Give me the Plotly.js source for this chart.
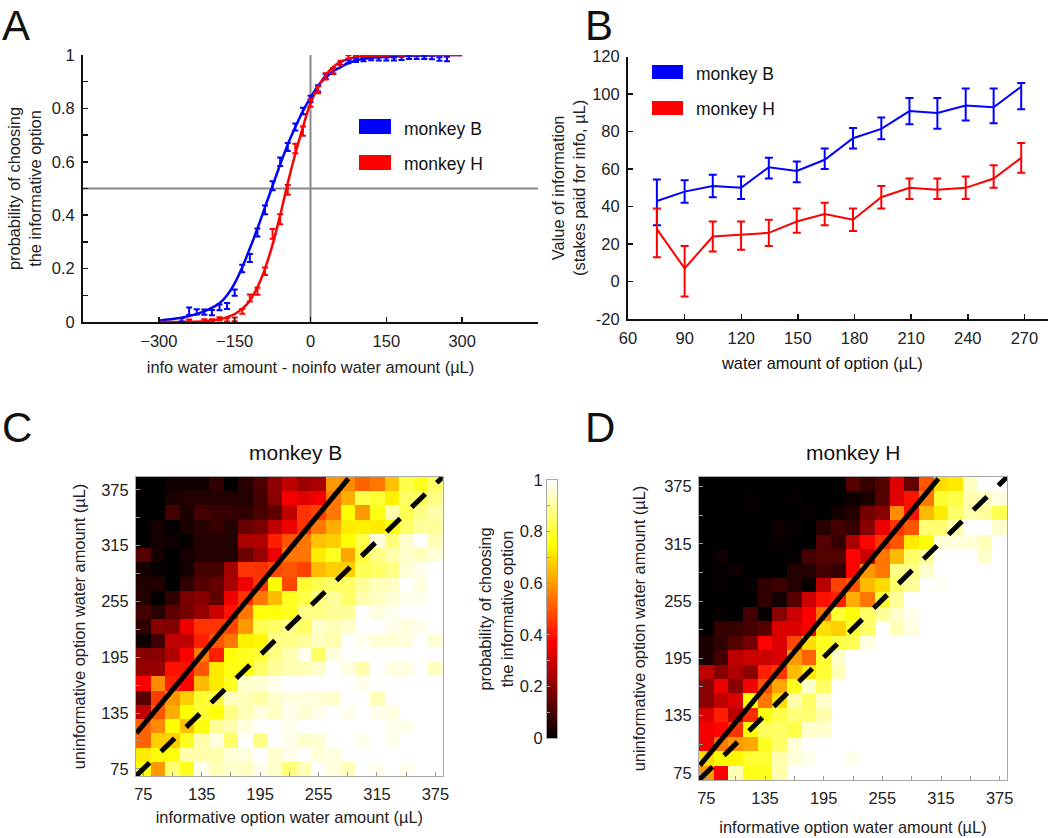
<!DOCTYPE html>
<html>
<head>
<meta charset="utf-8">
<script src="https://cdn.plot.ly/plotly-3.0.1.min.js"></script>
<style>body { margin: 0; background: #fff; }</style>
</head>
<body>
<div id="chart" style="width:1050px;height:838px"></div>
<script>
// panel A: psychometric fits
const fitX = [-300,-270,-240,-210,-180,-165,-150,-135,-120,-105,-90,-75,-60,-45,-30,-15,0,15,30,45,60,75,90,105,120,150,180,210,240,270,300];
const fitB = [0.005,0.012,0.022,0.04,0.07,0.1,0.145,0.205,0.275,0.35,0.43,0.51,0.59,0.665,0.73,0.79,0.84,0.885,0.915,0.94,0.955,0.97,0.98,0.985,0.99,0.993,0.996,0.998,0.999,1,1];
const fitH = [0,0,0.001,0.003,0.01,0.018,0.03,0.05,0.08,0.13,0.2,0.29,0.4,0.52,0.63,0.73,0.82,0.88,0.925,0.955,0.975,0.985,0.992,0.996,0.998,1,1,1,1,1,1];

const pointsBX = [-255,-240,-225,-210,-195,-180,-165,-150,-135,-120,-105,-90,-75,-60,-45,-30,-15,0,15,30,45,60,75,90,105,120,135,150,165,180,195,210,225,240,255,270];
const pointsB = [0.008,0.04,0.038,0.037,0.035,0.055,0.06,0.11,0.2,0.24,0.335,0.42,0.51,0.6,0.655,0.73,0.79,0.835,0.875,0.92,0.94,0.97,0.975,0.98,0.983,0.985,0.985,0.985,0.985,0.987,0.99,0.99,0.99,0.99,0.985,0.985];
const errB = [0.006,0.014,0.01,0.01,0.01,0.011,0.011,0.012,0.014,0.015,0.015,0.016,0.017,0.016,0.015,0.013,0.012,0.012,0.012,0.01,0.009,0.007,0.006,0.006,0.006,0.005,0.006,0.006,0.006,0.006,0.005,0.005,0.005,0.006,0.007,0.008];
const pointsHX = [-240,-210,-195,-180,-165,-150,-135,-120,-105,-90,-75,-60,-45,-30,-15,0,15,30,45,60,75,90,105,120,135,150,180,210,240,270];
const pointsH = [0.005,0.005,0.005,0.012,0.008,0.01,0.04,0.09,0.115,0.19,0.33,0.385,0.495,0.65,0.715,0.82,0.87,0.92,0.94,0.97,0.993,0.997,0.997,0.998,0.998,0.999,0.999,1,1,1];
const errH = [0.004,0.005,0.005,0.006,0.006,0.007,0.009,0.013,0.013,0.014,0.018,0.019,0.018,0.018,0.017,0.014,0.013,0.012,0.011,0.008,0.006,0.004,0.003,0.003,0.002,0.002,0.002,0.001,0.001,0.001];

// panel B: value of information
const waterX = [75.3,90,104.9,119.9,134.6,149.4,164.2,179.2,194.2,209.1,223.9,238.9,253.7,268.3];
const valueB = [43,48,51,50,61,59,65,76.5,81.5,91,90,94,93,104];
const valueBUp = [11.5,6,6,6,5,5,6,5.5,6,7,8,9,10,2];
const valueBDown = [13,6,6,6,6,6,5,5.5,5.5,7,8.5,8,8.5,12];
const valueH = [28,7,24,25,26,32,36,33,45,50,49,50,55,66];
const valueHUp = [11,12,8,7,7,7,6,6,6,5,6,6,7,8];
const valueHDown = [15,15,8,8,7,6,6,6,6,6,5,6,5,8];

// panels C and D: heat maps, first row is the top of the picture
const waterRows = [375,360,345,330,315,300,285,270,255,240,225,210,195,180,165,150,135,120,105,90,75];
const waterCols = [75,90,105,120,135,150,165,180,195,210,225,240,255,270,285,300,315,330,345,360,375];
const choiceB = [
  [0,0,0.02,0.02,0.02,0.07,0,0.06,0.11,0.21,0.28,0.23,0.25,0.6,0.58,0.52,0.55,0.66,0.82,0.78,0.85],
  [0,0,0.04,0.05,0.05,0.05,0.05,0.05,0.1,0.2,0.36,0.33,0.36,0.55,0.63,0.82,0.8,0.73,0.85,0.85,0.88],
  [0,0,0.1,0.04,0.1,0.08,0.08,0.07,0.11,0.14,0.28,0.45,0.47,0.55,0.75,0.6,0.77,0.92,0.83,0.88,0.92],
  [0,0.03,0,0.04,0.06,0.08,0.05,0.15,0.18,0.28,0.35,0.45,0.55,0.63,0.72,0.73,0.72,0.76,0.85,0.9,0.9],
  [0,0.03,0.02,0.01,0.05,0.05,0.05,0.25,0.26,0.42,0.5,0.55,0.66,0.68,0.75,0.82,0.97,0.87,0.95,1,0.93],
  [0.12,0.03,0,0.03,0.05,0.05,0.05,0.16,0.22,0.35,0.55,0.55,0.72,0.78,0.62,0.8,0.88,0.92,0.95,0.93,0.96],
  [0.03,0.01,0,0.03,0.1,0.1,0.24,0.45,0.45,0.48,0.5,0.47,0.65,0.68,0.68,0.83,0.85,0.88,0.96,0.98,1],
  [0.05,0.05,0,0.07,0.12,0.15,0.25,0.35,0.45,0.75,0.48,0.8,0.83,0.85,0.85,0.9,0.93,0.94,1,0.97,1],
  [0.05,0,0.07,0.18,0.2,0.14,0.35,0.45,0.55,0.65,0.78,0.82,0.88,0.9,0.85,0.92,0.94,0.96,0.98,0.98,1],
  [0.1,0.06,0.14,0.17,0.22,0.3,0.4,0.55,0.76,0.76,0.78,0.88,0.88,0.9,0.9,1,0.97,0.98,1,1,1],
  [0.07,0.2,0.19,0.35,0.45,0.45,0.48,0.6,0.83,0.85,0.88,0.85,0.95,0.93,0.95,1,1,0.98,0.97,0.98,1],
  [0.02,0.09,0.28,0.28,0.42,0.5,0.55,0.73,0.74,0.88,0.88,0.9,0.94,0.92,1,0.98,0.96,0.96,0.97,1,0.96],
  [0.2,0.2,0.26,0.37,0.55,0.42,0.76,0.78,0.8,0.88,0.92,0.98,0.85,0.97,1,1,1,1,1,1,1],
  [0.22,0.22,0.4,0.4,0.5,0.72,0.77,0.76,0.85,0.9,0.92,0.93,0.95,1,0.97,0.92,1,0.97,0.97,1,0.94],
  [0.37,0.58,0.42,0.38,0.65,0.72,0.78,0.95,0.96,0.98,1,1,1,1,1,0.98,1,1,1,1,1],
  [0.13,0.46,0.6,0.68,0.8,0.82,0.94,0.93,0.91,0.95,0.97,0.97,0.96,0.95,1,1,0.93,1,1,1,1],
  [0.28,0.5,0.63,0.75,0.8,0.76,0.88,0.93,0.97,0.94,0.98,0.96,0.98,1,0.98,1,0.98,0.97,1,1,1],
  [0.52,0.58,0.75,0.66,0.76,0.9,0.92,0.97,1,1,0.98,1,1,1,1,1,1,0.98,0.98,1,1],
  [0.52,0.68,0.68,0.78,0.92,0.97,0.85,1,0.88,1,0.98,0.95,0.96,1,1,0.98,1,0.98,1,1,1],
  [0.72,0.75,0.76,0.92,0.92,0.92,0.96,0.97,1,0.95,0.98,1,0.96,0.97,1,1,1,1,1,1,1],
  [0.75,0.6,0.86,0.78,0.98,0.93,0.95,0.94,0.98,0.95,0.87,0.93,1,0.97,0.93,1,0.98,1,0.98,1,1]
];
const choiceH = [
  [0,0,0,0,0,0,0,0,0,0,0.13,0.08,0.12,0.33,0.15,0.5,0.7,0.72,0.94,1,1],
  [0,0,0,0.01,0,0,0.01,0,0,0,0.02,0.04,0.12,0.33,0.4,0.55,0.8,0.82,0.92,0.94,0.97],
  [0,0,0,0,0,0,0,0.01,0,0.03,0.05,0.17,0.2,0.58,0.4,0.65,0.72,0.85,0.92,0.9,0.83],
  [0,0,0,0,0,0.02,0.01,0,0.06,0.1,0.08,0.2,0.35,0.45,0.5,0.86,0.86,0.92,1,1,0.95],
  [0,0,0,0,0,0.01,0,0,0.12,0.08,0.25,0.38,0.45,0.5,0.72,0.76,0.96,0.97,0.96,0.93,1],
  [0,0.02,0,0,0,0,0.01,0.1,0.12,0.12,0.38,0.3,0.55,0.65,0.85,0.9,1,1,1,0.95,1],
  [0,0.01,0.02,0,0,0,0.05,0.05,0.1,0.08,0.38,0.6,0.55,0.88,0.88,0.95,1,1,1,1,1],
  [0,0.01,0,0.01,0.07,0.09,0.05,0.01,0.27,0.47,0.5,0.65,0.7,0.85,0.9,1,0.99,1,1,1,1],
  [0,0,0,0,0.07,0.03,0.13,0.3,0.4,0.42,0.63,0.55,0.8,0.9,1,1,1,1,1,1,1],
  [0,0.01,0,0.1,0.01,0.2,0.3,0.37,0.55,0.8,0.75,0.85,0.9,0.95,0.98,1,1,1,1,1,1],
  [0,0.08,0.08,0.1,0.13,0.32,0.32,0.37,0.7,0.68,0.8,0.85,1,0.93,0.97,1,1,1,1,1,1],
  [0.04,0.07,0.12,0.17,0.38,0.32,0.48,0.7,0.78,0.82,0.83,0.97,1,1,1,1,1,1,1,1,1],
  [0.04,0.1,0.28,0.3,0.3,0.32,0.6,0.52,0.8,0.95,1,1,1,1,1,1,1,1,1,1,1],
  [0.28,0.2,0.26,0.2,0.42,0.45,0.65,0.72,0.8,0.93,1,1,1,1,1,1,1,1,1,1,1],
  [0.2,0.35,0.2,0.36,0.5,0.62,0.78,0.95,0.85,1,1,1,1,1,1,1,1,1,1,1,1],
  [0.2,0.28,0.32,0.75,0.55,0.7,0.92,0.85,0.95,1,1,1,1,1,1,1,1,1,1,1,1],
  [0.32,0.42,0.28,0.44,0.76,0.82,0.87,0.86,0.92,1,1,1,1,1,1,1,1,1,1,1,1],
  [0.36,0.38,0.45,0.75,0.84,0.85,0.82,0.95,0.95,1,1,1,1,1,1,1,1,1,1,1,1],
  [0.36,0.55,0.6,0.62,0.78,0.85,0.96,1,1,1,1,1,1,1,1,1,1,1,1,1,1],
  [0.7,0.75,0.74,0.8,0.8,0.92,0.96,0.98,1,1,0.98,1,1,1,1,1,1,1,1,1,1],
  [0.6,0.37,0.93,0.77,0.78,0.92,1,1,1,1,1,1,1,1,1,1,1,1,1,1,1]
];

// fitted indifference lines and the equal-value diagonal
const indiffBX = [68,285.6];
const indiffBY = [112.7,380.7];
const indiffHX = [68.5,312.3];
const indiffHY = [82.8,380.8];
const diagonal = [67.5,382.5];

// colour bar levels and tick labels
const barLevels = [0,0.125,0.25,0.375,0.5,0.625,0.75,0.875,1];
const barTicks = [0,0.1,0.2,0.3,0.4,0.5,0.6,0.7,0.8,0.9,1];
const barTickText = ['0','','0.2','','0.4','','0.6','','0.8','','1'];
// the printed y ticks of C and D sit slightly off the cell centres
const heatTickText = ['75','','135','','195','','255','','315','','375'];
const heatXTicks = [75,105,135,165,195,225,255,285,315,345,375];
const heatYTicksB = [75,104.4,133.8,163.2,192.6,222,251.4,280.8,310.2,339.6,369];
const heatYTicksH = [75,104.75,134.5,164.25,194,223.75,253.5,283.25,313,342.75,372.5];

const BLUE = '#0000ff', RED = '#ff0000';
const hot = [[0,'#000000'],[0.375,'#ff0000'],[0.75,'#ffff00'],[1,'#ffffff']];
const W = 1050, H = 838;

function domX(a, b) { return [a / W, b / W]; }
function domY(top, bottom) { return [1 - bottom / H, 1 - top / H]; }

function heat(z, xa, ya) {
  return { type: 'heatmap', x: waterCols, y: waterRows, z: z, xaxis: xa, yaxis: ya,
    colorscale: hot, zmin: 0, zmax: 1, showscale: false, hoverinfo: 'skip' };
}
function fit(x, y, color) {
  return { type: 'scatter', mode: 'lines', x: x, y: y, line: { color: color, width: 2.5, shape: 'spline' }, xaxis: 'x', yaxis: 'y' };
}
function bars(x, y, e, color) {
  return { type: 'scatter', mode: 'markers', x: x, y: y, marker: { size: 1, color: color }, xaxis: 'x', yaxis: 'y',
    error_y: { type: 'data', array: e, color: color, thickness: 2, width: 3 } };
}
function valueLine(y, up, down, color) {
  return { type: 'scatter', mode: 'lines', x: waterX, y: y, line: { color: color, width: 2 }, xaxis: 'x2', yaxis: 'y2',
    error_y: { type: 'data', symmetric: false, array: up, arrayminus: down, color: color, thickness: 2, width: 4 } };
}
function bigLine(x, y, xa, ya, dash) {
  return { type: 'scatter', mode: 'lines', x: x, y: y, xaxis: xa, yaxis: ya, hoverinfo: 'skip',
    line: { color: '#000', width: 5, dash: dash } };
}

const traces = [
  fit(fitX, fitB, BLUE), fit(fitX, fitH, RED),
  bars(pointsBX, pointsB, errB, BLUE), bars(pointsHX, pointsH, errH, RED),
  valueLine(valueB, valueBUp, valueBDown, BLUE), valueLine(valueH, valueHUp, valueHDown, RED),
  heat(choiceB, 'x3', 'y3'),
  bigLine(indiffBX, indiffBY, 'x3', 'y3', 'solid'),
  bigLine(diagonal, diagonal, 'x3', 'y3', '19px,16px'),
  heat(choiceH, 'x4', 'y4'),
  bigLine(indiffHX, indiffHY, 'x4', 'y4', 'solid'),
  bigLine(diagonal, diagonal, 'x4', 'y4', '19px,16px'),
  { type: 'heatmap', x: [0,1], y: barLevels, z: barLevels.map(v => [v, v]), xaxis: 'x5', yaxis: 'y5',
    zsmooth: 'best', colorscale: hot, zmin: 0, zmax: 1, showscale: false, hoverinfo: 'skip' }
];

const FONT = 'Liberation Sans, Arial, sans-serif';
const tickFont = { family: FONT, size: 16.5, color: '#222' };
const lineAxis = { showgrid: false, zeroline: false, showline: true, linecolor: '#111', linewidth: 2,
  ticks: 'inside', ticklen: 5, tickcolor: '#111', tickwidth: 1.5, tickfont: tickFont, ticklabelstandoff: 3 };
const heatAxis = { showgrid: false, zeroline: false, showline: true, linecolor: '#aaa', linewidth: 1, mirror: true,
  ticks: 'inside', ticklen: 4, tickcolor: '#999', tickwidth: 1, tickfont: tickFont, ticklabelstandoff: 3,
  range: [67.5,382.5], tickmode: 'array', ticktext: heatTickText };

function axisTitle(text, standoff) {
  return { text: text, font: { family: FONT, size: 16.4, color: '#222' }, standoff: standoff };
}
function rect(x0, y0, x1, y1, color) {
  return { type: 'rect', xref: 'paper', yref: 'paper', x0: x0 / W, x1: x1 / W, y0: 1 - y0 / H, y1: 1 - y1 / H,
    fillcolor: color, line: { width: 0 } };
}
function label(text, px, py, size) {
  return { text: text, xref: 'paper', yref: 'paper', x: px / W, y: 1 - py / H, showarrow: false,
    xanchor: 'left', yanchor: 'middle', font: { family: FONT, size: size, color: '#111' } };
}

const layout = {
  width: W, height: H, margin: { l: 0, r: 0, t: 0, b: 0 }, paper_bgcolor: '#fff', plot_bgcolor: '#fff',
  showlegend: false,
  xaxis: Object.assign({}, lineAxis, { domain: domX(83, 538), anchor: 'y', range: [-450, 450],
    tickmode: 'array', tickvals: [-450,-300,-150,0,150,300,450], ticktext: ['','\u2212300','\u2212150','0','150','300',''],
    title: axisTitle('info water amount - noinfo water amount (\u00b5L)', 13) }),
  yaxis: Object.assign({}, lineAxis, { domain: domY(55, 322), anchor: 'x', range: [0, 1],
    tickmode: 'array', tickvals: [0,0.1,0.2,0.3,0.4,0.5,0.6,0.7,0.8,0.9,1], ticktext: ['0','','0.2','','0.4','','0.6','','0.8','','1'],
    title: axisTitle('probability of choosing<br>the informative option', 6) }),
  xaxis2: Object.assign({}, lineAxis, { domain: domX(628, 1048), anchor: 'y2', range: [60, 282.5],
    tickmode: 'array', tickvals: [60,90,120,150,180,210,240,270] }),
  yaxis2: Object.assign({}, lineAxis, { domain: domY(56.7, 319), anchor: 'x2', range: [-20, 120],
    tickmode: 'array', tickvals: [-20,0,20,40,60,80,100,120], ticktext: ['-20','0','20','40','60','80','100','120'],
    title: axisTitle('Value of information<br>(stakes paid for info, \u00b5L)', 2) }),
  xaxis3: Object.assign({}, heatAxis, { domain: domX(136, 442.7), anchor: 'y3', tickvals: heatXTicks,
    title: axisTitle('informative option water amount (\u00b5L)', 9) }),
  yaxis3: Object.assign({}, heatAxis, { domain: domY(477, 776), anchor: 'x3', tickvals: heatYTicksB,
    title: axisTitle('uninformative option water amount (\u00b5L)', 11) }),
  xaxis4: Object.assign({}, heatAxis, { domain: domX(699, 1007), anchor: 'y4', tickvals: heatXTicks,
    title: axisTitle('informative option water amount (\u00b5L)', 15) }),
  yaxis4: Object.assign({}, heatAxis, { domain: domY(477, 780), anchor: 'x4', tickvals: heatYTicksH,
    title: axisTitle('uninformative option water amount (\u00b5L)', 14) }),
  xaxis5: { domain: domX(547, 557), anchor: 'y5', range: [0, 1], showticklabels: false, ticks: '', showgrid: false,
    zeroline: false, showline: true, linecolor: '#aaa', linewidth: 1, mirror: true },
  yaxis5: { domain: domY(480, 738), anchor: 'x5', range: [0, 1], tickmode: 'array', tickvals: barTicks, ticktext: barTickText,
    showgrid: false, zeroline: false, showline: true, linecolor: '#aaa', linewidth: 1, mirror: true,
    ticks: 'inside', ticklen: 3, tickcolor: '#999', tickfont: tickFont, ticklabelstandoff: 0,
    title: axisTitle('probability of choosing<br>the informative option', 2) },
  shapes: [
    { type: 'line', xref: 'x', yref: 'y', x0: -450, x1: 450, y0: 0.5, y1: 0.5, line: { color: '#888', width: 2 }, layer: 'below' },
    { type: 'line', xref: 'x', yref: 'y', x0: 0, x1: 0, y0: 0, y1: 1, line: { color: '#888', width: 2 }, layer: 'below' },
    rect(359, 119, 391, 134, BLUE), rect(359, 155, 391, 170, RED),
    rect(652, 65, 683, 79, BLUE), rect(652, 101, 683, 115, RED)
  ],
  annotations: [
    label('monkey B', 402, 129, 17.5), label('monkey H', 402, 164, 17.5),
    label('monkey B', 694, 74, 17.5), label('monkey H', 694, 109, 17.5),
    label('water amount of option (\u00b5L)', 719, 363, 16.4),
    label('A', 0, 25, 42), label('B', 583, 25, 42), label('C', 0, 427, 42), label('D', 583, 427, 42),
    Object.assign(label('monkey B', 295, 452, 21), { xanchor: 'center' }),
    Object.assign(label('monkey H', 853, 452, 21), { xanchor: 'center' })
  ]
};

Plotly.newPlot('chart', traces, layout, { displayModeBar: false, staticPlot: true });
</script>
</body>
</html>
